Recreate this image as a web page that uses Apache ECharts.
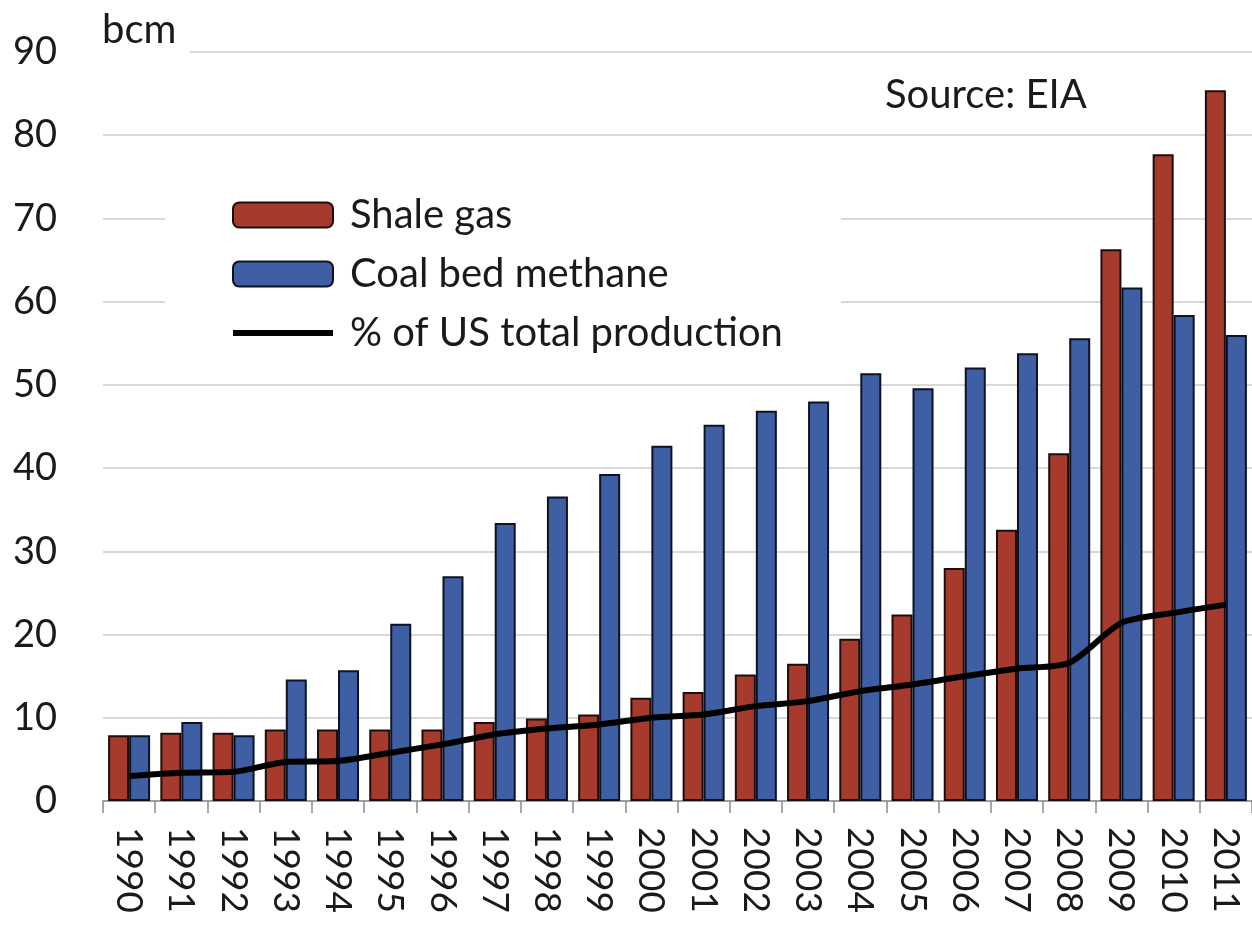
<!DOCTYPE html>
<html>
<head>
<meta charset="utf-8">
<script src="https://cdn.jsdelivr.net/npm/echarts@6/dist/echarts.min.js"></script>
<style>
html,body{margin:0;padding:0;background:#fff;}
#chart{width:1252px;height:929px;}
</style>
</head>
<body>
<div id="chart"></div>
<script>
const years = ['1990','1991','1992','1993','1994','1995','1996','1997','1998','1999','2000','2001','2002','2003','2004','2005','2006','2007','2008','2009','2010','2011'];
const shaleGas = [7.9, 8.2, 8.2, 8.6, 8.6, 8.6, 8.6, 9.5, 9.9, 10.4, 12.4, 13.1, 15.2, 16.5, 19.5, 22.4, 28.0, 32.6, 41.8, 66.3, 77.7, 85.4];
const coalBedMethane = [7.9, 9.5, 7.9, 14.6, 15.7, 21.3, 27.0, 33.4, 36.6, 39.3, 42.7, 45.2, 46.9, 48.0, 51.4, 49.6, 52.1, 53.8, 55.6, 61.7, 58.4, 56.0];
const shareOfUS = [3.0, 3.4, 3.5, 4.7, 4.8, 5.8, 6.8, 8.0, 8.7, 9.2, 10.0, 10.4, 11.4, 12.0, 13.2, 14.0, 15.0, 15.9, 16.6, 21.4, 22.6, 23.6];
const yTicks = {min: 0, max: 90, interval: 10};

const FONT = 'Lato';
const chart = echarts.init(document.getElementById('chart'), null, {renderer: 'canvas'});
chart.setOption({
  backgroundColor: '#ffffff',
  animation: false,
  textStyle: {fontFamily: FONT},
  grid: {left: 103, top: 52, width: 1153, height: 749, containLabel: false},
  legend: {
    orient: 'vertical',
    left: 165, top: 183,
    backgroundColor: '#ffffff',
    padding: [12, 58, 12, 65],
    itemWidth: 100, itemHeight: 25,
    itemGap: 19,
    textStyle: {fontFamily: FONT, fontSize: 40, color: '#1a1a1a', lineHeight: 40, padding: [0, 0, 0, 12]},
    data: [
      'Shale gas',
      'Coal bed methane',
      {name: '% of US total production', itemStyle: {opacity: 0}, lineStyle: {width: 6, color: '#000000'}}
    ]
  },
  xAxis: {
    type: 'category',
    data: years,
    axisLine: {lineStyle: {color: '#8a8a8a', width: 1.5}},
    axisTick: {show: true, length: 12, lineStyle: {color: '#8a8a8a', width: 1.5}},
    axisLabel: {rotate: -90, fontSize: 37, color: '#1a1a1a', margin: 26, fontFamily: FONT}
  },
  yAxis: {
    type: 'value',
    min: yTicks.min, max: yTicks.max, interval: yTicks.interval,
    axisLine: {show: false},
    axisTick: {show: false},
    splitLine: {lineStyle: {color: '#d8d8d8', width: 2}},
    axisLabel: {fontSize: 38, color: '#1a1a1a', margin: 46, fontFamily: FONT}
  },
  graphic: [
    {type: 'rect', left: 90, top: 40, shape: {width: 100, height: 24}, style: {fill: '#ffffff'}, z: 5},
    {type: 'text', left: 102, top: 10, style: {text: 'bcm', fontSize: 40, fontFamily: FONT, fill: '#1a1a1a'}, z: 6},
    {type: 'text', left: 885, top: 75, style: {text: 'Source: EIA', fontSize: 40, fontFamily: FONT, fill: '#1a1a1a'}, z: 6}
  ],
  series: [
    {
      name: 'Shale gas', type: 'bar', data: shaleGas,
      barWidth: 21, barGap: '0%',
      itemStyle: {color: '#a63a2c', borderColor: '#1c0e0a', borderWidth: 2}
    },
    {
      name: 'Coal bed methane', type: 'bar', data: coalBedMethane,
      barWidth: 21,
      itemStyle: {color: '#3f5fa5', borderColor: '#0e1222', borderWidth: 2}
    },
    {
      name: '% of US total production', type: 'line', data: shareOfUS,
      symbol: 'none', smooth: 0.25,
      lineStyle: {color: '#000000', width: 6},
      itemStyle: {color: '#000000'},
      z: 4
    }
  ]
});
</script>
</body>
</html>
